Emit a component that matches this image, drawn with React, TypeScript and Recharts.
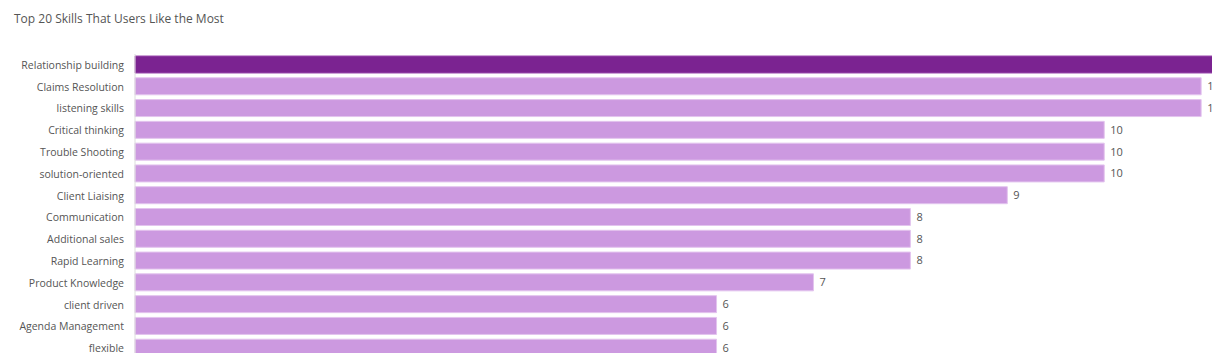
import { Bar, BarChart, Cell, LabelList, XAxis, YAxis } from 'recharts';

const skills = [
  'Relationship building',
  'Claims Resolution',
  'listening skills',
  'Critical thinking',
  'Trouble Shooting',
  'solution-oriented',
  'Client Liaising',
  'Communication',
  'Additional sales',
  'Rapid Learning',
  'Product Knowledge',
  'client driven',
  'Agenda Management',
  'flexible'
];
const likes = [12, 11, 11, 10, 10, 10, 9, 8, 8, 8, 7, 6, 6, 6];

const data = skills.map((skill, i) => ({ skill, likes: likes[i] }));

const font = '"Open Sans", sans-serif';

// single-line category label, right aligned against the axis
function SkillTick(props: any) {
  const { x, y, payload } = props;
  return (
    <text x={x - 3} y={y} dy={4} textAnchor='end' fontSize={10.5} fill='#555' fontFamily={font}>
      {payload.value}
    </text>
  );
}

export default function App() {
  return (
    <div style={{ position: 'relative', width: 1212, height: 353, overflow: 'hidden', fontFamily: font }}>
      <style>{'body{margin:0;overflow:hidden}'}</style>
      <div style={{ position: 'absolute', left: 14, top: 10, fontSize: 12, color: '#555' }}>
        Top 20 Skills That Users Like the Most
      </div>
      <div style={{ position: 'absolute', left: 0, top: 0 }}>
        <BarChart
          width={1435}
          height={359}
          data={data}
          layout='vertical'
          margin={{ top: 54, right: 40, bottom: 0, left: 0 }}
        >
          <XAxis type='number' domain={[0, 13]} hide />
          <YAxis
            type='category'
            dataKey='skill'
            width={135}
            axisLine={{ stroke: '#ddd' }}
            tickLine={false}
            tick={<SkillTick />}
            interval={0}
          />
          <Bar dataKey='likes' barSize={17} isAnimationActive={false} fill='#cc99e0' stroke='#e3c4ee'>
            {data.map((d, i) => (
              <Cell key={d.skill} fill={i === 0 ? '#7b2391' : '#cc99e0'} stroke={i === 0 ? '#9a4bad' : '#e3c4ee'} />
            ))}
            <LabelList dataKey='likes' position='right' offset={6} fill='#555' fontSize={11} fontFamily={font} />
          </Bar>
        </BarChart>
      </div>
    </div>
  );
}
